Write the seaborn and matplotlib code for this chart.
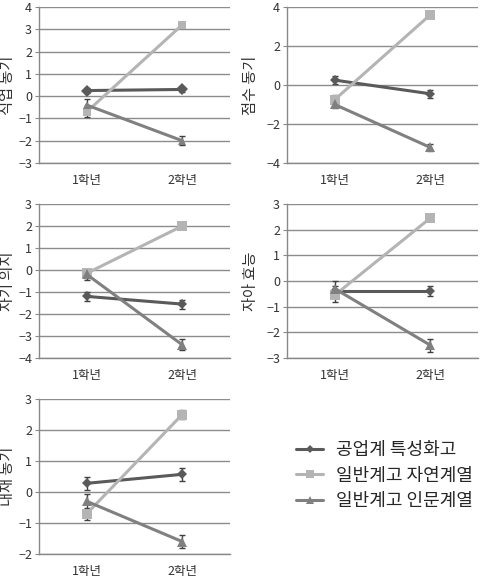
import pandas as pd
import seaborn as sns
import matplotlib.pyplot as plt

# grades on the x axis and the three school groups
grades = ['1학년', '2학년']
groups = ['공업계 특성화고', '일반계고 자연계열', '일반계고 인문계열']

# panel names (y labels) and y ranges
panels = ['직업 동기', '점수 동기', '자기 의지', '자아 효능', '내재 동기']
ylims = [(-3, 4), (-4, 4), (-4, 3), (-3, 3), (-2, 3)]
ysteps = [1, 2, 1, 1, 1]

# means per panel: [공업계, 자연계열, 인문계열] x [1학년, 2학년]
job_motive = [[0.25, 0.3], [-0.7, 3.2], [-0.4, -2.0]]
score_motive = [[0.25, -0.45], [-0.75, 3.6], [-1.0, -3.2]]
self_will = [[-1.2, -1.55], [-0.15, 2.0], [-0.2, -3.4]]
self_efficacy = [[-0.4, -0.4], [-0.55, 2.45], [-0.3, -2.5]]
intrinsic_motive = [[0.28, 0.57], [-0.7, 2.5], [-0.3, -1.6]]

# error bar half widths
job_err = [[0.12, 0.12], [0.25, 0.1], [0.25, 0.2]]
score_err = [[0.2, 0.2], [0.25, 0.15], [0.2, 0.2]]
will_err = [[0.2, 0.2], [0.2, 0.1], [0.25, 0.25]]
efficacy_err = [[0.2, 0.2], [0.25, 0.12], [0.3, 0.25]]
intrinsic_err = [[0.2, 0.2], [0.2, 0.15], [0.25, 0.22]]

means = [job_motive, score_motive, self_will, self_efficacy, intrinsic_motive]
errs = [job_err, score_err, will_err, efficacy_err, intrinsic_err]

colors = {'공업계 특성화고': '#5a5a5a', '일반계고 자연계열': '#b4b4b4', '일반계고 인문계열': '#808080'}
markers = {'공업계 특성화고': 'D', '일반계고 자연계열': 's', '일반계고 인문계열': '^'}
msizes = {'공업계 특성화고': 5, '일반계고 자연계열': 6.5, '일반계고 인문계열': 7}

sns.set_style('white')
plt.rcParams['font.family'] = ['Noto Sans CJK KR', 'DejaVu Sans']

W, H = 483, 579
fig = plt.figure(figsize=(W / 100, H / 100), dpi=100)

lefts = [39, 287, 39, 287, 39]
tops = [7, 7, 204, 204, 399]
bottoms = [163, 163, 358, 358, 554]
label_x = [8, 251, 8, 251, 8]
aw = 191

handles = None
for i, name in enumerate(panels):
    rect = [lefts[i] / W, 1 - bottoms[i] / H, aw / W, (bottoms[i] - tops[i]) / H]
    ax = fig.add_axes(rect)
    rows = []
    for g, grp in enumerate(groups):
        for k, gr in enumerate(grades):
            rows.append({'grade': gr, 'group': grp, 'value': means[i][g][k], 'err': errs[i][g][k]})
    df = pd.DataFrame(rows)

    for g, grp in enumerate(groups):
        ax.errorbar([0, 1], means[i][g], yerr=errs[i][g], fmt='none', ecolor='#404040',
                    elinewidth=1, capsize=2.5, capthick=1, zorder=2)
    sns.lineplot(data=df, x='grade', y='value', hue='group', style='group',
                 palette=colors, markers=markers, dashes=False, linewidth=2.2,
                 markeredgewidth=0, ax=ax, legend=(i == 0), zorder=3)
    for line, grp in zip(ax.lines[-3:], groups):
        line.set_markersize(msizes[grp])

    if i == 0:
        handles, labels = ax.get_legend_handles_labels()
        ax.get_legend().remove()

    lo, hi = ylims[i]
    ax.set_ylim(lo, hi)
    ax.set_yticks(range(lo, hi + 1, ysteps[i]))
    ax.set_xlim(-0.5, 1.5)
    ax.set_xticks([0, 1])
    ax.set_xticks([-0.5, 0.5, 1.5], minor=True)
    ax.tick_params(axis='x', which='major', length=0, labelsize=9, pad=8, colors='#333333')
    ax.tick_params(axis='x', which='minor', length=4, color='#888888', direction='out')
    ax.tick_params(axis='y', length=3, color='#888888', direction='out', labelsize=9,
                   left=True, colors='#333333', pad=2)
    ax.yaxis.grid(True, color='#8c8c8c', linewidth=1)
    ax.set_axisbelow(True)
    for s in ['top', 'right']:
        ax.spines[s].set_visible(False)
    for s in ['left', 'bottom']:
        ax.spines[s].set_color('#888888')
        ax.spines[s].set_linewidth(1)
    ax.set_xlabel('')
    ax.set_ylabel(name, fontsize=11, color='#333333', va='center')
    ax.yaxis.set_label_coords((label_x[i] - lefts[i]) / aw, 0.5)

fig.legend(handles, labels, loc='upper left', bbox_to_anchor=(296 / W, 1 - 441 / H),
           frameon=False, fontsize=13, handlelength=1.5, labelspacing=0.42,
           handletextpad=0.7, borderpad=0, borderaxespad=0, markerscale=0.8)

fig.savefig('out.png', dpi=100)
